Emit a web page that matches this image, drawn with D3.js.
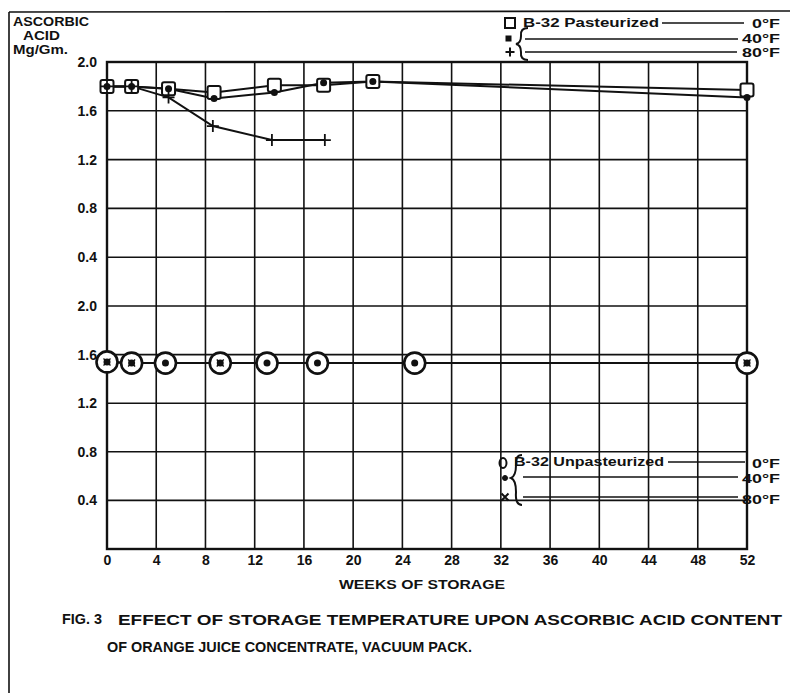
<!DOCTYPE html>
<html>
<head>
<meta charset="utf-8">
<script src="https://cdn.jsdelivr.net/npm/d3@7"></script>
<style>
  body { margin: 0; background: #fff; }
  svg text { font-family: "Liberation Sans", Arial, sans-serif; font-weight: bold; fill: #111; }
</style>
</head>
<body>
<div id="chart"></div>
<script>
// weeks of storage and ascorbic acid (mg/gm)
const weeksPast = [0, 2, 5, 8.7, 13.6, 17.6, 21.6, 52]
const past0F = [1.80, 1.80, 1.78, 1.75, 1.81, 1.81, 1.84, 1.77]
const past40F = [1.80, 1.80, 1.78, 1.70, 1.75, 1.83, 1.84, 1.71]
const weeksPast80 = [0, 2, 5, 8.6, 13.4, 17.7]
const past80F = [1.80, 1.80, 1.71, 1.475, 1.36, 1.36]

const weeksUnp = [0, 2, 4.75, 9.2, 13.0, 17.1, 25, 52]
const unp0F = [1.54, 1.53, 1.53, 1.53, 1.53, 1.53, 1.53, 1.53]
const unp40F = [1.54, 1.53, 1.53, 1.53, 1.53, 1.53, 1.53, 1.53]
const weeksUnp80 = [0, 2, 9.2, 52]
const unp80F = [1.54, 1.53, 1.53, 1.53]

const xTicks = [0, 4, 8, 12, 16, 20, 24, 28, 32, 36, 40, 44, 48, 52]
const yTicks = [0.4, 0.8, 1.2, 1.6, 2.0]

drawChart("#chart")

function drawChart(id){
    const canvas = {width: 790, height: 693, left: 107, right: 747, top: 62, mid: 306, bottom: 549}
    const svg = d3.select(id).append("svg").attr("width", canvas.width).attr("height", canvas.height)
    const sc = addScales(canvas)

    addFrame(svg, canvas)
    addGrid(svg, sc, canvas)
    addAxes(svg, sc, canvas)
    addPasteurized(svg, sc)
    addUnpasteurized(svg, sc)
    addLegends(svg)
    addLabels(svg)
}

function addScales(canvas){
    const x = d3.scaleLinear().domain([0, 52]).range([canvas.left, canvas.right])
    const yTop = d3.scaleLinear().domain([0, 2]).range([canvas.mid, canvas.top])
    const yBot = d3.scaleLinear().domain([0, 2]).range([canvas.bottom, canvas.mid])
    return {x, yTop, yBot}
}

function addFrame(svg, canvas){
    svg.append("line").attr("x1", 9).attr("x2", 790).attr("y1", 12).attr("y2", 11)
      .attr("stroke", "#111").attr("stroke-width", 1.6)
    svg.append("line").attr("x1", 9).attr("x2", 9).attr("y1", 12).attr("y2", canvas.height)
      .attr("stroke", "#111").attr("stroke-width", 1.6)
}

function addGrid(svg, sc, canvas){
    const g = svg.append("g").attr("stroke", "#111").attr("stroke-width", 1.6)
    g.selectAll(".vg").data(xTicks).enter().append("line")
      .attr("x1", d => sc.x(d)).attr("x2", d => sc.x(d))
      .attr("y1", canvas.top).attr("y2", canvas.bottom)
    g.selectAll(".ht").data(yTicks).enter().append("line")
      .attr("x1", canvas.left).attr("x2", canvas.right)
      .attr("y1", d => sc.yTop(d)).attr("y2", d => sc.yTop(d))
    g.selectAll(".hb").data([0].concat(yTicks)).enter().append("line")
      .attr("x1", canvas.left).attr("x2", canvas.right)
      .attr("y1", d => sc.yBot(d)).attr("y2", d => sc.yBot(d))
    svg.append("rect").attr("x", canvas.left).attr("y", canvas.top)
      .attr("width", canvas.right - canvas.left).attr("height", canvas.bottom - canvas.top)
      .attr("fill", "none").attr("stroke", "#111").attr("stroke-width", 2.4)
}

function addAxes(svg, sc, canvas){
    const fmt = d3.format(".1f")
    const left = d3.axisLeft(sc.yTop).tickValues(yTicks).tickSize(0).tickPadding(10).tickFormat(fmt)
    const leftB = d3.axisLeft(sc.yBot).tickValues(yTicks).tickSize(0).tickPadding(10).tickFormat(fmt)
    const bottom = d3.axisBottom(sc.x).tickValues(xTicks).tickSize(0).tickPadding(6)

    ;[svg.append("g").attr("transform", `translate(${canvas.left},0)`).call(left),
     svg.append("g").attr("transform", `translate(${canvas.left},0)`).call(leftB),
     svg.append("g").attr("transform", `translate(0,${canvas.bottom})`).call(bottom)]
    .forEach(a => {
        a.select(".domain").remove()
        a.selectAll("text").attr("font-size", "14px").attr("font-family", null).attr("fill", "#111")
    })
}

function series(weeks, vals){
    return weeks.map((w, i) => ({w: w, v: vals[i]}))
}

function drawLine(svg, data, sc, y){
    const line = d3.line().x(d => sc.x(d.w)).y(d => y(d.v))
    svg.append("path").datum(data).attr("fill", "none").attr("stroke", "#111")
      .attr("stroke-width", 2).attr("d", line)
}

function crossPath(cx, cy, s){
    return `M${cx - s},${cy}H${cx + s}M${cx},${cy - s}V${cy + s}`
}

function xPath(cx, cy, s){
    return `M${cx - s},${cy - s}L${cx + s},${cy + s}M${cx - s},${cy + s}L${cx + s},${cy - s}`
}

function addPasteurized(svg, sc){
    const p0 = series(weeksPast, past0F)
    const p40 = series(weeksPast, past40F)
    const p80 = series(weeksPast80, past80F)

    drawLine(svg, p80, sc, sc.yTop)
    drawLine(svg, p40, sc, sc.yTop)
    drawLine(svg, p0, sc, sc.yTop)

    svg.selectAll(".sq").data(p0).enter().append("rect")
      .attr("x", d => sc.x(d.w) - 6.5).attr("y", d => sc.yTop(d.v) - 6.5)
      .attr("width", 13).attr("height", 13).attr("rx", 2)
      .attr("fill", "#fff").attr("stroke", "#111").attr("stroke-width", 2)
    svg.selectAll(".dt").data(p40).enter().append("circle")
      .attr("cx", d => sc.x(d.w)).attr("cy", d => sc.yTop(d.v)).attr("r", 3.5).attr("fill", "#111")
    svg.selectAll(".pl").data(p80).enter().append("path")
      .attr("d", d => crossPath(sc.x(d.w), sc.yTop(d.v), 6))
      .attr("stroke", "#111").attr("stroke-width", 1.8)
}

function addUnpasteurized(svg, sc){
    const u0 = series(weeksUnp, unp0F)
    const u40 = series(weeksUnp, unp40F)
    const u80 = series(weeksUnp80, unp80F)

    drawLine(svg, u40, sc, sc.yBot)
    drawLine(svg, u0, sc, sc.yBot)

    svg.selectAll(".ci").data(u0).enter().append("circle")
      .attr("cx", d => sc.x(d.w)).attr("cy", d => sc.yBot(d.v)).attr("r", 10.5)
      .attr("fill", "#fff").attr("stroke", "#111").attr("stroke-width", 2.6)
    svg.selectAll(".ux").data(u80).enter().append("path")
      .attr("d", d => xPath(sc.x(d.w), sc.yBot(d.v), 3.5))
      .attr("stroke", "#111").attr("stroke-width", 1.4)
    svg.selectAll(".ud").data(u40).enter().append("circle")
      .attr("cx", d => sc.x(d.w)).attr("cy", d => sc.yBot(d.v)).attr("r", 3.5).attr("fill", "#111")
}

function addLegends(svg){
    const g = svg.append("g").attr("stroke", "#111")

    // pasteurized
    g.append("rect").attr("x", 505).attr("y", 18).attr("width", 10).attr("height", 10)
      .attr("fill", "#fff").attr("stroke-width", 2)
    g.append("rect").attr("x", 506).attr("y", 36).attr("width", 5).attr("height", 5).attr("fill", "#111")
    g.append("path").attr("d", crossPath(510, 52, 4.5)).attr("stroke-width", 2)
    g.append("path").attr("d", "M528,28 Q520,28 521,36 Q521,43 516,44 Q521,45 521,52 Q520,60 528,60")
      .attr("fill", "none").attr("stroke-width", 2)
    g.append("line").attr("x1", 662).attr("x2", 744).attr("y1", 23).attr("y2", 23).attr("stroke-width", 1.5)
    g.append("line").attr("x1", 525).attr("x2", 738).attr("y1", 39).attr("y2", 39).attr("stroke-width", 1.5)
    g.append("line").attr("x1", 525).attr("x2", 737).attr("y1", 52).attr("y2", 52).attr("stroke-width", 1.5)

    svg.append("text").attr("x", 523).attr("y", 23).attr("dominant-baseline", "central")
      .attr("font-size", "12px").attr("textLength", 136).attr("lengthAdjust", "spacingAndGlyphs")
      .text("B-32 Pasteurized")
    legendTemp(svg, 23, "0°F", 28)
    legendTemp(svg, 38, "40°F", 38)
    legendTemp(svg, 52, "80°F", 38)

    // unpasteurized
    g.append("ellipse").attr("cx", 503).attr("cy", 463).attr("rx", 3.5).attr("ry", 5)
      .attr("fill", "none").attr("stroke-width", 2)
    g.append("circle").attr("cx", 505).attr("cy", 478).attr("r", 2.5).attr("fill", "#111")
    g.append("path").attr("d", xPath(505, 497, 3.5)).attr("stroke-width", 2)
    g.append("path").attr("d", "M522,455 Q515,455 516,465 Q516,476 511,478 Q516,480 516,492 Q515,505 522,505")
      .attr("fill", "none").attr("stroke-width", 2)
    g.append("line").attr("x1", 668).attr("x2", 745).attr("y1", 462).attr("y2", 462).attr("stroke-width", 1.5)
    g.append("line").attr("x1", 523).attr("x2", 738).attr("y1", 477).attr("y2", 477).attr("stroke-width", 1.5)
    g.append("line").attr("x1", 523).attr("x2", 738).attr("y1", 497).attr("y2", 497).attr("stroke-width", 1.5)

    svg.append("text").attr("x", 514).attr("y", 462).attr("dominant-baseline", "central")
      .attr("font-size", "12px").attr("textLength", 150).attr("lengthAdjust", "spacingAndGlyphs")
      .text("B-32 Unpasteurized")
    legendTemp(svg, 463, "0°F", 28)
    legendTemp(svg, 478, "40°F", 38)
    legendTemp(svg, 499, "80°F", 38)
}

function legendTemp(svg, y, label, len){
    svg.append("text").attr("x", 780 - len).attr("y", y).attr("dominant-baseline", "central")
      .attr("font-size", "13px").attr("textLength", len).attr("lengthAdjust", "spacingAndGlyphs")
      .text(label)
}

function addLabels(svg){
    const lines = [
        {t: "ASCORBIC", x: 13, y: 22, len: 76, size: 12},
        {t: "ACID", x: 23, y: 36, len: 37, size: 12},
        {t: "Mg/Gm.", x: 13, y: 50, len: 55, size: 12},
        {t: "WEEKS OF STORAGE", x: 339, y: 584, len: 166, size: 13},
        {t: "FIG. 3", x: 62, y: 619, len: 40, size: 14},
        {t: "EFFECT OF STORAGE TEMPERATURE UPON ASCORBIC ACID CONTENT", x: 118, y: 619, len: 664, size: 15},
        {t: "OF ORANGE JUICE  CONCENTRATE, VACUUM PACK.", x: 107, y: 646, len: 365, size: 15}
    ]
    svg.selectAll(".lbl").data(lines).enter().append("text")
      .attr("x", d => d.x).attr("y", d => d.y).attr("dominant-baseline", "central")
      .attr("font-size", d => d.size + "px")
      .attr("textLength", d => d.len).attr("lengthAdjust", "spacingAndGlyphs")
      .text(d => d.t)
}
</script>
</body>
</html>
